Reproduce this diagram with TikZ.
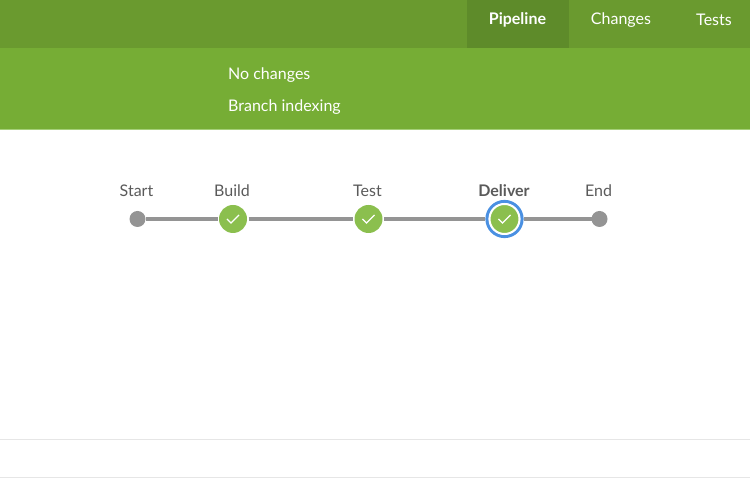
\documentclass[tikz,border=0pt]{standalone}
\usepackage{fontspec}
\setmainfont{Lato}
\usetikzlibrary{positioning}
\definecolor{barDark}{HTML}{6A9A2F}
\definecolor{barTab}{HTML}{5E8B2A}
\definecolor{barMain}{HTML}{76AD35}
\definecolor{barEdge}{HTML}{A5CF78}
\definecolor{stepGreen}{HTML}{8BBF4E}
\definecolor{stepGrey}{HTML}{949494}
\definecolor{stepText}{HTML}{5A5A5A}
\definecolor{ringBlue}{HTML}{4A90E2}
\definecolor{ruleGrey}{HTML}{E6E6E6}
\tikzset{
  tabLabel/.style={text=white, font=\fontsize{16}{18}\selectfont, inner sep=0pt},
  barLabel/.style={text=white, font=\fontsize{16}{18}\selectfont, inner sep=0pt, anchor=west},
  stepLabel/.style={text=stepText, font=\fontsize{16}{18}\selectfont, inner sep=0pt},
  endDot/.style={circle, fill=stepGrey, minimum size=16pt, inner sep=0pt, outer sep=0pt},
  okDot/.style={circle, fill=stepGreen, minimum size=28pt, inner sep=0pt, outer sep=1.5pt},
  curDot/.style={circle, fill=stepGreen, draw=white, line width=2pt, minimum size=30pt, inner sep=0pt, outer sep=0pt},
  curRing/.style={circle, draw=ringBlue, line width=3.2pt, minimum size=35pt, inner sep=0pt, outer sep=1.6pt},
  pipeLine/.style={draw=stepGrey, line width=4pt},
  checkMark/.style={draw=white, line width=1.3pt},
}
\begin{document}
\begin{tikzpicture}[x=1pt, y=1pt]
  \useasboundingbox (0,0) rectangle (750,500);
  % bars
  \fill [barDark] (0,452) rectangle (750,500);
  \fill [barTab] (466.5,452) rectangle (569,500);
  \fill [barMain] (0,371) rectangle (750,452);
  \fill [barEdge] (0,370.5) rectangle (750,371);
  %
  \node [tabLabel] (tabPipeline) at (517.5,480) {\textbf{Pipeline}};
  \node [tabLabel] (tabChanges) at (621,480) {Changes};
  \node [tabLabel] (tabTests) at (714,480) {Tests};
  \node [barLabel] (noChanges) at (228,425) {No changes};
  \node [barLabel] (branchIndexing) at (228,393) {Branch indexing};
  %
  \node [endDot] (start) at (137.5,281) {};
  \node [okDot] (build) at (233,281) {};
  \node [okDot] (test) at (368.5,281) {};
  \node [curRing] (deliver) at (504.5,281) {};
  \node [curDot] (deliverIn) at (504.5,281) {};
  \node [endDot] (end) at (599.5,281) {};
  %
  \draw [pipeLine] (start) -- (build);
  \draw [pipeLine] (build) -- (test);
  \draw [pipeLine] (test) -- (deliver);
  \draw [pipeLine] (deliver) -- (end);
  %
  \foreach \x in {build,test,deliverIn} {
    \draw [checkMark] ([shift={(-6,0)}]\x.center) -- ([shift={(-2,-4)}]\x.center) -- ([shift={(6,4)}]\x.center);
  }
  %
  \node [stepLabel] (startLabel) at (136.5,309) {Start};
  \node [stepLabel] (buildLabel) at (232,309) {Build};
  \node [stepLabel] (testLabel) at (367.5,309) {Test};
  \node [stepLabel] (deliverLabel) at (504,309) {\textbf{Deliver}};
  \node [stepLabel] (endLabel) at (598.5,309) {End};
  %
  \coordinate (ruleAL) at (0,60.5);
  \coordinate (ruleAR) at (750,60.5);
  \coordinate (ruleBL) at (0,22.5);
  \coordinate (ruleBR) at (750,22.5);
  \draw [ruleGrey, line width=1pt] (ruleAL) -- (ruleAR);
  \draw [ruleGrey, line width=1pt] (ruleBL) -- (ruleBR);
\end{tikzpicture}
\end{document}
